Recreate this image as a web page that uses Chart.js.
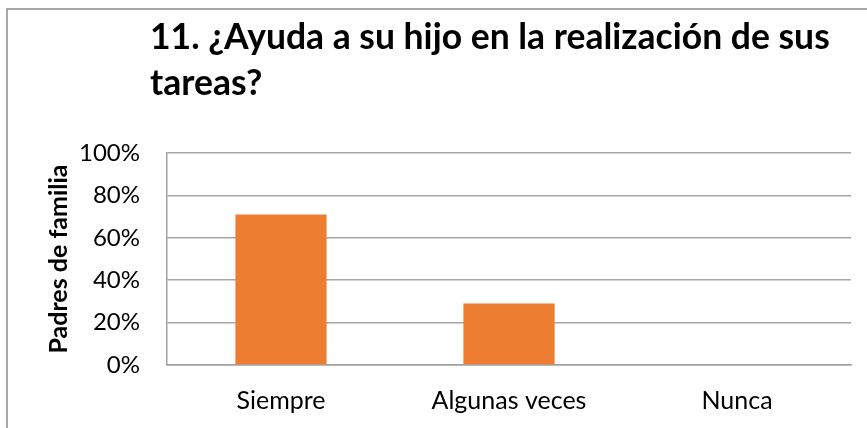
<!DOCTYPE html>
<html lang="es">
<head>
  <meta charset="UTF-8">
  <title>11. Ayuda a su hijo</title>
  <script src="https://cdn.jsdelivr.net/npm/chart.js"></script>
  <style>
    body {
      margin: 0;
      background: #fff;
      overflow: hidden;
    }
    #wrap {
      width: 867px;
      height: 428px;
    }
  </style>
</head>
<body>

<div id="wrap">
  <canvas id="tareasChart" width="867" height="428"></canvas>
</div>

<script>
  var categories = ['Siempre', 'Algunas veces', 'Nunca'];
  var percentages = [71, 29, 0];
  var yTicks = [0, 20, 40, 60, 80, 100];
  var titleLines = ['11. ¿Ayuda a su hijo en la realización de sus', 'tareas?'];
  var yTitle = 'Padres de familia';

  var font = "Lato, 'Noto Sans', sans-serif";

  // frame around the chart and the two-line title, left aligned like the original
  var framePlugin = {
    id: 'frame',
    beforeDraw: function (chart) {
      var c = chart.ctx;
      c.save();
      c.strokeStyle = '#8c8c8c';
      c.lineWidth = 1.5;
      c.strokeRect(7, 9, 900, 450);
      c.restore();
    },
    afterDraw: function (chart) {
      var c = chart.ctx;
      c.save();
      c.fillStyle = '#000';
      c.font = 'bold 35.5px ' + font;
      c.textBaseline = 'alphabetic';
      c.fillText(titleLines[0], 150, 49);
      c.fillText(titleLines[1], 150, 95);
      c.restore();
    }
  };

  var ctx = document.getElementById('tareasChart').getContext('2d');

  var tareasChart = new Chart(ctx, {
    type: 'bar',
    data: {
      labels: categories,
      datasets: [{
        data: percentages,
        backgroundColor: '#ED7D31',
        borderWidth: 0,
        categoryPercentage: 1,
        barPercentage: 0.4
      }]
    },
    options: {
      responsive: false,
      animation: false,
      layout: {
        padding: { top: 153, left: 40, right: 16, bottom: 0 }
      },
      scales: {
        x: {
          grid: { display: false, drawTicks: false },
          border: { display: true, color: '#a0a0a0', width: 1.5 },
          ticks: {
            color: '#000',
            padding: 21,
            font: { family: font, size: 25 }
          },
          afterFit: function (scale) { scale.height = 63; }
        },
        y: {
          min: 0,
          max: 100,
          afterBuildTicks: function (scale) {
            scale.ticks = yTicks.map(function (v) { return { value: v }; });
          },
          grid: { color: '#a6a6a6', lineWidth: 1.5, drawTicks: false },
          border: { display: true, color: '#a0a0a0', width: 1.5 },
          ticks: {
            color: '#000',
            padding: 27,
            font: { family: font, size: 24 },
            callback: function (v) { return v + '%'; }
          },
          title: {
            display: true,
            text: yTitle,
            color: '#000',
            padding: { top: 4, bottom: 0 },
            font: { family: font, size: 25, weight: 'bold' }
          },
          afterFit: function (scale) { scale.width = 127; }
        }
      },
      plugins: {
        legend: { display: false },
        tooltip: { enabled: false }
      }
    },
    plugins: [framePlugin]
  });
</script>

</body>
</html>
